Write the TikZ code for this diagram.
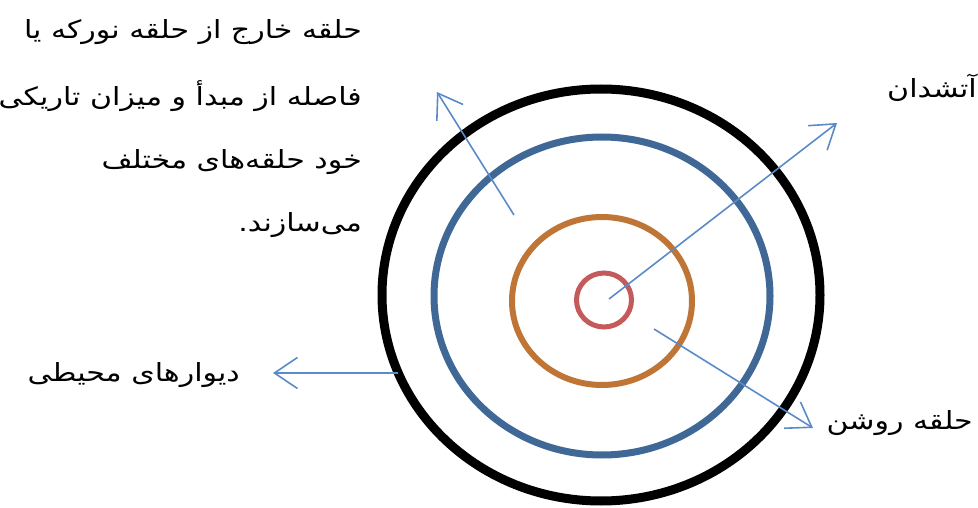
\documentclass[tikz,border=0pt]{standalone}
\usepackage{fontspec}
\newfontfamily\arabicfont[Script=Arabic, FakeStretch=1.2]{DejaVu Sans}
\TeXXeTstate=1
\usetikzlibrary{arrows.meta}
\definecolor{ringblue}{HTML}{3F6897}
\definecolor{ringorange}{HTML}{BE7535}
\definecolor{ringred}{HTML}{C55A5A}
\definecolor{rayblue}{HTML}{5A8BC8}
\tikzset{
  ray/.style={draw=rayblue, line width=1.6pt, -{Straight Barb[length=23pt, width=31pt, line width=1.6pt]}},
  fatext/.style={anchor=base east, inner sep=0pt, font=\arabicfont\fontsize{25}{30}\selectfont}
}
\begin{document}
\begin{tikzpicture}[x=1pt, y=1pt]
	\useasboundingbox (0, 0) rectangle (978, 507);
	% rings, from the outer wall to the hearth
	\draw[black, line width=9pt] (601, 212) ellipse [x radius=219, y radius=206];
	\draw[ringblue, line width=7pt] (602, 211) ellipse [x radius=168, y radius=159];
	\draw[ringorange, line width=6pt] (602, 206) ellipse [x radius=90, y radius=84];
	\draw[ringred, line width=5pt] (604, 207) ellipse [x radius=27.5, y radius=27];
	% ends of the arrows
	\coordinate (dark0) at (514, 292);
	\coordinate (dark1) at (437, 415);
	\coordinate (hearth0) at (609, 208);
	\coordinate (hearth1) at (837, 384);
	\coordinate (bright0) at (654, 178);
	\coordinate (bright1) at (813, 79);
	\coordinate (walls0) at (398, 134);
	\coordinate (walls1) at (273, 134);
	\foreach \a in {dark, hearth, bright, walls}
		\draw[ray] (\a0) -- (\a1);
	% text of the outer ring, one line per node
	\foreach \y/\txt/\n in {468/{حلقه خارج از حلقه نورکه یا}/1, 401/{فاصله از مبدأ و میزان تاریکی}/2, 338/{خود حلقه^^^^200cهای مختلف}/3, 276/{می^^^^200cسازند.}/4}
		\node[fatext] (dark\n) at (362, \y) {\beginR\txt\endR};
	% other labels
	\node[fatext] (hearth) at (977, 409) {\beginR آتشدان\endR};
	\node[fatext] (walls) at (240, 126) {\beginR دیوارهای محیطی\endR};
	\node[fatext] (bright) at (973, 78) {\beginR حلقه روشن\endR};
\end{tikzpicture}
\end{document}
